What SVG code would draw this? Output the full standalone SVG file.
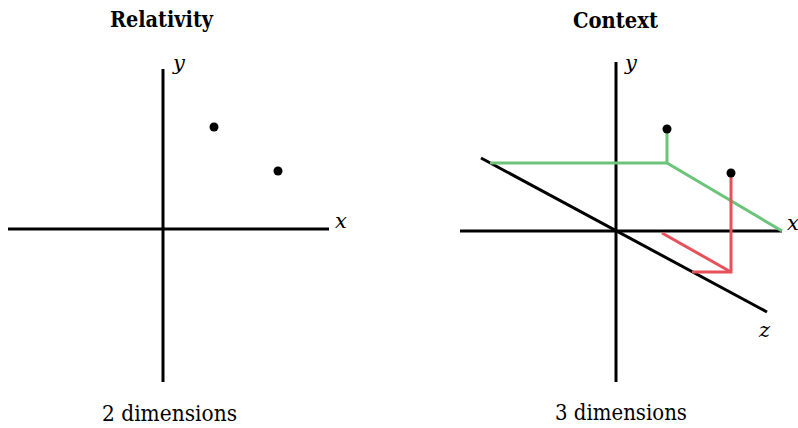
<svg xmlns="http://www.w3.org/2000/svg" width="798" height="428" viewBox="0 0 798 428">
<style>
.ax{stroke:#000;stroke-width:3;fill:none}
.g{stroke:#6cc47a;stroke-width:3;fill:none}
.r{stroke:#e8505a;stroke-width:3;fill:none}
text{font-family:"DejaVu Serif",serif;font-size:23px;fill:#000}
.b{font-weight:bold}
.i{font-style:italic;font-size:21px}
</style>
<rect width="798" height="428" fill="#fff"/>
<g id="left">
<text class="b" x="110" y="27" textLength="103" lengthAdjust="spacingAndGlyphs">Relativity</text>
<text class="i" x="173" y="70">y</text>
<text class="i" x="335" y="228">x</text>
<text x="102" y="421" textLength="135" lengthAdjust="spacingAndGlyphs">2 dimensions</text>
<line class="ax" x1="8" y1="229" x2="329" y2="229"/>
<line class="ax" x1="163" y1="69" x2="163" y2="382"/>
<circle cx="214" cy="127" r="4.5"/>
<circle cx="278" cy="171" r="4.5"/>
</g>
<g id="right">
<text class="b" x="573" y="28" textLength="85" lengthAdjust="spacingAndGlyphs">Context</text>
<text class="i" x="625" y="70">y</text>
<text class="i" x="787" y="230">x</text>
<text class="i" x="759" y="337">z</text>
<text x="555" y="420" textLength="132" lengthAdjust="spacingAndGlyphs">3 dimensions</text>
<line class="ax" x1="460" y1="231" x2="782" y2="231"/>
<line class="ax" x1="616" y1="62" x2="616" y2="382"/>
<line class="ax" x1="481" y1="158" x2="767" y2="312"/>
<polyline class="g" points="490,163 667,163 782,231"/>
<line class="g" x1="667" y1="163" x2="667" y2="129"/>
<polyline class="r" points="731,173 731,272 692,272"/>
<line class="r" x1="662" y1="233" x2="731" y2="272"/>
<circle cx="667" cy="129" r="4.5"/>
<circle cx="731" cy="173" r="4.5"/>
</g>
</svg>
